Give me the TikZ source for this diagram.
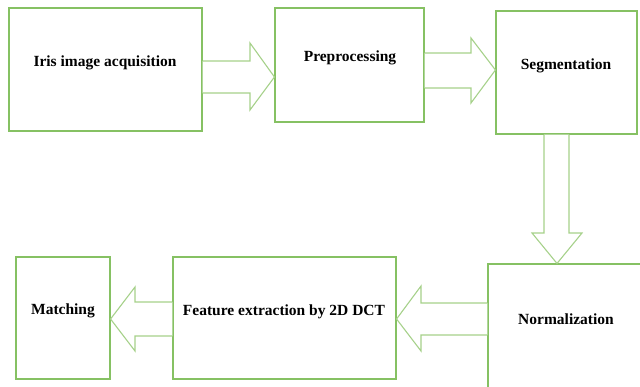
\documentclass[tikz,border=0pt]{standalone}
\usepackage{fontspec}
\setmainfont{Liberation Serif}
\definecolor{boxgreen}{HTML}{86C163}
\definecolor{arrgreen}{HTML}{A6D18A}
\begin{document}
\begin{tikzpicture}[x=1pt,y=-1pt,
  stepbox/.style={draw=boxgreen,line width=1.1pt,fill=white,inner sep=0pt},
  lbl/.style={font=\fontsize{15.5}{18}\selectfont\bfseries,inner sep=0pt},
  blockarrow/.style={draw=arrgreen,line width=1.1pt,fill=white,line join=miter}]
\useasboundingbox (0,0) rectangle (640,386);
\clip (0,0) rectangle (640,386);
% boxes
\node[stepbox,minimum width=193pt,minimum height=123pt] (iris) at (105.5,69.5) {};
\node[stepbox,minimum width=149pt,minimum height=114pt] (prep) at (349.5,65) {};
\node[stepbox,minimum width=141pt,minimum height=123pt] (seg) at (566.5,72.5) {};
\node[stepbox,minimum width=200pt,minimum height=160pt] (norm) at (588,344) {};
\node[stepbox,minimum width=223pt,minimum height=122pt] (feat) at (284.5,318) {};
\node[stepbox,minimum width=94pt,minimum height=122pt] (match) at (63,318) {};
% labels
\node[lbl] (tiris) at (105,63) {Iris image acquisition};
\node[lbl] (tprep) at (350,58) {Preprocessing};
\node[lbl] (tseg) at (566,66) {Segmentation};
\node[lbl] (tnorm) at (566,319) {Normalization};
\node[lbl] (tfeat) at (284,312) {Feature extraction by 2D DCT};
\node[lbl] (tmatch) at (63,311) {Matching};
% block arrows
\draw[blockarrow] (iris.east |- 0,61) -- (250,61) -- (250,43) -- (prep.west |- 0,77)
  -- (250,110) -- (250,93) -- (iris.east |- 0,93);
\draw[blockarrow] (prep.east |- 0,53) -- (471,53) -- (471,38) -- (seg.west |- 0,70)
  -- (471,103) -- (471,88) -- (prep.east |- 0,88);
\draw[blockarrow] (seg.south -| 544,0) -- (544,233) -- (532,233) -- (norm.north -| 557,0)
  -- (582,233) -- (569,233) -- (seg.south -| 569,0);
\draw[blockarrow] (norm.west |- 0,303) -- (421,303) -- (421,286) -- (feat.east |- 0,319)
  -- (421,351) -- (421,335) -- (norm.west |- 0,335);
\draw[blockarrow] (feat.west |- 0,302) -- (135,302) -- (135,287) -- (match.east |- 0,319)
  -- (135,351) -- (135,336) -- (feat.west |- 0,336);
\end{tikzpicture}
\end{document}
